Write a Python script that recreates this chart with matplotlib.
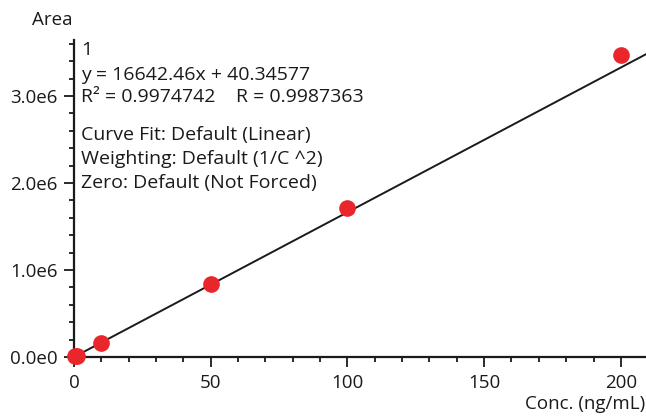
import matplotlib
matplotlib.use("Agg")
import matplotlib.pyplot as plt
import numpy as np
from matplotlib.ticker import MultipleLocator, FuncFormatter

# calibration standards
conc = [0.5, 1, 10, 50, 100, 200]
area = [8000, 16600, 160000, 840000, 1710000, 3470000]

slope = 16642.46
intercept = 40.34577

info_lines = [
    "1",
    "y = 16642.46x + 40.34577",
    "R\u00b2 = 0.9974742    R = 0.9987363",
]
fit_lines = [
    "Curve Fit: Default (Linear)",
    "Weighting: Default (1/C ^2)",
    "Zero: Default (Not Forced)",
]

plt.rcParams['font.family'] = ['Open Sans', 'DejaVu Sans']
W, H = 646, 418
fig = plt.figure(figsize=(W / 100, H / 100), dpi=100)
ax = fig.add_axes([74 / W, (H - 357) / H, (W - 74) / W, (357 - 40) / H])

xmax = 209.2
ymax = 3.645e6
xs = np.array([0, xmax])
ax.plot(xs, slope * xs + intercept, color='#1a1a1a', lw=1.4, zorder=2)
ax.plot(conc, area, 'o', color='#e8262b', ms=12, mec='none', zorder=3, clip_on=False)

ax.set_xlim(0, xmax)
ax.set_ylim(0, ymax)
for s in ['top', 'right']:
    ax.spines[s].set_visible(False)
for s in ['left', 'bottom']:
    ax.spines[s].set_linewidth(1.6)
    ax.spines[s].set_color('#1a1a1a')

ax.xaxis.set_major_locator(MultipleLocator(50))
ax.xaxis.set_minor_locator(MultipleLocator(10))
ax.yaxis.set_major_locator(MultipleLocator(1e6))
ax.yaxis.set_minor_locator(MultipleLocator(2e5))
ax.yaxis.set_major_formatter(FuncFormatter(lambda v, p: "0.0e0" if v == 0 else "%.1fe6" % (v / 1e6)))
ax.tick_params(which='major', length=7, width=1.3, labelsize=13.5, colors='#1a1a1a', pad=5)
ax.tick_params(axis='x', which='major', pad=5)
ax.tick_params(which='minor', length=3.5, width=1.3, colors='#1a1a1a')

fs = 14
fig.text(32 / W, 1 - 20 / H, "Area", fontsize=13.5, va='center', ha='left', color='#1a1a1a')
fig.text(645 / W, 1 - 404 / H, "Conc. (ng/mL)", fontsize=13.5, va='center', ha='right', color='#1a1a1a')

ys = [50, 75, 97]
for t, y in zip(info_lines, ys):
    fig.text(81 / W, 1 - y / H, t, fontsize=fs, va='center', ha='left', color='#1a1a1a')
ys = [135, 159, 183]
for t, y in zip(fit_lines, ys):
    fig.text(81 / W, 1 - y / H, t, fontsize=fs, va='center', ha='left', color='#1a1a1a')

fig.savefig("out.png", dpi=100)
